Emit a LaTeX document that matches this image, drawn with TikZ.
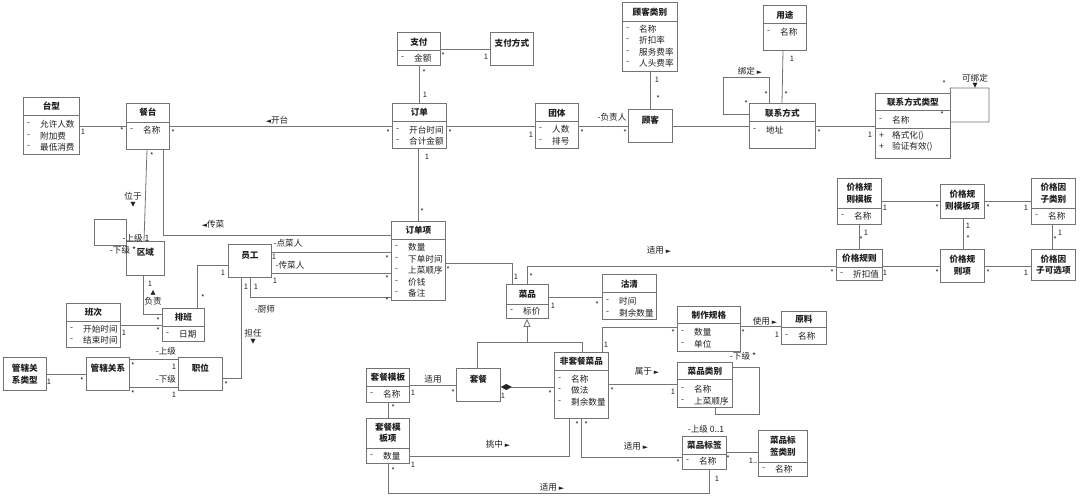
\documentclass[tikz,border=0pt]{standalone}
\usepackage{fontspec}
\setmainfont{Noto Sans CJK SC}
\newfontfamily\symf{DejaVu Sans}
\usetikzlibrary{arrows.meta}
\colorlet{lc}{black!55}
\colorlet{txtc}{black!88}
\tikzset{
  cbox/.style={draw=lc, line width=0.8pt, fill=white, inner sep=0pt, anchor=north west},
  cline/.style={draw=lc, line width=0.8pt},
  conn/.style={draw=lc, line width=0.8pt},
  ttl/.style={font=\fontsize{8.6}{11.5}\selectfont\bfseries, align=center, inner sep=0pt, text=txtc},
  att/.style={font=\fontsize{8.6}{10}\selectfont, anchor=west, inner sep=0pt, text=txtc},
  mlab/.style={font=\fontsize{7.5}{8}\selectfont, inner sep=0pt, text=txtc},
  rlab/.style={font=\fontsize{8.6}{10}\selectfont, inner sep=0pt, text=txtc, align=center},
}
\newcommand\ubox[5]{%
  \pgfmathsetmacro\bw{#4-#2}\pgfmathsetmacro\bh{#5-#3}%
  \node[cbox, minimum width=\bw pt, minimum height=\bh pt] (#1) at (#2,#3) {};}
\newcommand\usep[2]{\draw[cline] (#1.west |- 0,#2) -- (#1.east |- 0,#2);}
\newcommand\utitle[3]{\node[ttl] at (#1.center |- 0,#2) {#3};}
\newcommand\uattr[4]{\node[att] at ({#1+4},#2) {#3};\node[att] at ({#1+17},#2) {#4};}
\newcommand\umult[3]{\node[mlab] at (#1,#2) {#3};}
\newcommand\urole[3]{\node[rlab] at (#1,#2) {#3};}
\newcommand\arR{{\symf\fontsize{6.8}{7}\selectfont ►}}
\newcommand\arL{{\symf\fontsize{6.8}{7}\selectfont ◄}}
\newcommand\arD{{\symf\fontsize{6.5}{7}\selectfont ▼}}
\newcommand\arU{{\symf\fontsize{6.5}{7}\selectfont ▲}}
\begin{document}
\begin{tikzpicture}[x=1pt,y=-1pt]
\useasboundingbox[fill=white] (0,0) rectangle (1080,498);

% ---------- classes ----------
\ubox{tx}{23}{97}{79}{154}\usep{tx}{115}\utitle{tx}{106}{台型}
\uattr{23}{124}{-}{允许人数}\uattr{23}{136}{-}{附加费}\uattr{23}{147}{-}{最低消费}

\ubox{ct}{126}{103}{169}{149}\usep{ct}{122}\utitle{ct}{112}{餐台}
\uattr{126}{130}{-}{名称}

\ubox{dd}{392}{103}{446}{148}\usep{dd}{121}\utitle{dd}{112}{订单}
\uattr{392}{130}{-}{开台时间}\uattr{392}{141}{-}{合计金额}

\ubox{zf}{397}{32}{440}{65}\usep{zf}{50}\utitle{zf}{42}{支付}
\uattr{397}{58}{-}{金额}

\ubox{zffs}{490}{32}{533}{65}\utitle{zffs}{43}{支付方式}

\ubox{tt}{535}{103}{578}{148}\usep{tt}{121}\utitle{tt}{113}{团体}
\uattr{535}{129}{-}{人数}\uattr{535}{141}{-}{排号}

\ubox{gk}{628}{109}{672}{142}\utitle{gk}{120}{顾客}

\ubox{gklb}{622}{2}{677}{71}\usep{gklb}{21}\utitle{gklb}{12}{顾客类别}
\uattr{622}{29}{-}{名称}\uattr{622}{40}{-}{折扣率}\uattr{622}{52}{-}{服务费率}\uattr{622}{63}{-}{人头费率}

\ubox{yt}{763}{5}{806}{50}\usep{yt}{23}\utitle{yt}{15}{用途}
\uattr{763}{32}{-}{名称}

\ubox{lxfs}{749}{103}{815}{148}\usep{lxfs}{121}\utitle{lxfs}{113}{联系方式}
\uattr{749}{130}{-}{地址}

\ubox{lxlx}{875}{93}{950}{158}\usep{lxlx}{110}\usep{lxlx}{128}\utitle{lxlx}{102}{联系方式类型}
\uattr{875}{120}{-}{名称}\uattr{875}{136}{+}{格式化()}\uattr{875}{147}{+}{验证有效()}

\ubox{jgmb}{837}{178}{881}{224}\usep{jgmb}{208}\utitle{jgmb}{193}{价格规\\则模板}
\uattr{837}{216}{-}{名称}
\ubox{jgmbx}{940}{184}{984}{218}\utitle{jgmbx}{200}{价格规\\则模板项}
\ubox{jgyzlb}{1031}{178}{1075}{224}\usep{jgyzlb}{208}\utitle{jgyzlb}{193}{价格因\\子类别}
\uattr{1031}{216}{-}{名称}
\ubox{jggz}{836}{249}{882}{280}\usep{jggz}{267}\utitle{jggz}{258}{价格规则}
\uattr{836}{274}{-}{折扣值}
\ubox{jggzx}{940}{249}{984}{282}\utitle{jggzx}{265}{价格规\\则项}
\ubox{jgyzkx}{1031}{249}{1075}{280}\utitle{jgyzkx}{265}{价格因\\子可选项}

\ubox{cp}{506}{284}{548}{318}\usep{cp}{304}\utitle{cp}{294}{菜品}
\uattr{506}{311}{-}{标价}

\ubox{ddx}{391}{221}{445}{300}\usep{ddx}{239}\utitle{ddx}{230}{订单项}
\uattr{391}{247}{-}{数量}\uattr{391}{259}{-}{下单时间}\uattr{391}{270}{-}{上菜顺序}
\uattr{391}{282}{-}{价钱}\uattr{391}{293}{-}{备注}

\ubox{gq}{602}{274}{656}{319}\usep{gq}{292}\utitle{gq}{284}{沽清}
\uattr{602}{301}{-}{时间}\uattr{602}{313}{-}{剩余数量}

\ubox{zzgg}{677}{306}{740}{351}\usep{zzgg}{323}\utitle{zzgg}{315}{制作规格}
\uattr{677}{332}{-}{数量}\uattr{677}{344}{-}{单位}

\ubox{yl}{781}{311}{826}{344}\usep{yl}{327}\utitle{yl}{319}{原料}
\uattr{781}{336}{-}{名称}

\ubox{ftc}{554}{352}{608}{418}\usep{ftc}{370}\utitle{ftc}{361}{非套餐菜品}
\uattr{554}{379}{-}{名称}\uattr{554}{390}{-}{做法}\uattr{554}{402}{-}{剩余数量}

\ubox{tc}{456}{368}{500}{401}\utitle{tc}{379}{套餐}

\ubox{cplb}{677}{362}{732}{407}\usep{cplb}{379}\utitle{cplb}{371}{菜品类别}
\uattr{677}{389}{-}{名称}\uattr{677}{401}{-}{上菜顺序}

\ubox{cpbq}{682}{436}{726}{469}\usep{cpbq}{454}\utitle{cpbq}{445}{菜品标签}
\uattr{682}{461}{-}{名称}

\ubox{bqlb}{758}{430}{807}{476}\usep{bqlb}{462}\utitle{bqlb}{446}{菜品标\\签类别}
\uattr{758}{469}{-}{名称}

\ubox{tcmb}{366}{368}{409}{402}\usep{tcmb}{386}\utitle{tcmb}{377}{套餐模板}
\uattr{366}{394}{-}{名称}

\ubox{tcmbx}{366}{418}{409}{463}\usep{tcmbx}{448}\utitle{tcmbx}{433}{套餐模\\板项}
\uattr{366}{456}{-}{数量}

\ubox{yg}{228}{244}{271}{277}\utitle{yg}{255}{员工}
\ubox{qy}{126}{241}{164}{275}\utitle{qy}{252}{区域}

\ubox{pb}{162}{308}{204}{341}\usep{pb}{326}\utitle{pb}{317}{排班}
\uattr{162}{334}{-}{日期}

\ubox{bc}{66}{303}{120}{347}\usep{bc}{321}\utitle{bc}{312}{班次}
\uattr{66}{329}{-}{开始时间}\uattr{66}{340}{-}{结束时间}

\ubox{gxlx}{3}{357}{46}{390}\utitle{gxlx}{374}{管辖关\\系类型}
\ubox{gxgx}{86}{357}{129}{390}\utitle{gxgx}{368}{管辖关系}
\ubox{zw}{178}{357}{222}{390}\utitle{zw}{368}{职位}

% ---------- connectors ----------
\draw[conn] (tx.east |- 0,126) -- (ct.west |- 0,126);
\draw[conn] (ct.east |- 0,126.5) -- (dd.west |- 0,126.5);
\draw[conn] (zf.east |- 0,49) -- (zffs.west |- 0,49);
\draw[conn] (zf.south -| 419,0) -- (dd.north -| 419,0);
\draw[conn] (dd.east |- 0,126) -- (tt.west |- 0,126);
\draw[conn] (tt.east |- 0,126) -- (gk.west |- 0,126);
\draw[conn] (gklb.south -| 650,0) -- (gk.north -| 650,0);
\draw[conn] (gk.east |- 0,126) -- (lxfs.west |- 0,126);
\draw[conn] (yt.south -| 783,0) -- (lxfs.north -| 782,0);
\draw[conn] (lxfs.north -| 769,0) -- (769,77) -- (723,77) -- (723,114) -- (lxfs.west |- 0,114);
\draw[conn] (lxfs.east |- 0,126) -- (lxlx.west |- 0,126);
\draw[conn] (lxlx.north east) -- (950,88) -- (989,88) -- (989,122) -- (lxlx.east |- 0,122);

\draw[conn] (jgmb.east |- 0,201) -- (jgmbx.west |- 0,201);
\draw[conn] (jgmbx.east |- 0,201) -- (jgyzlb.west |- 0,201);
\draw[conn] (jgmb.south -| 859,0) -- (jggz.north -| 859,0);
\draw[conn] (jgmbx.south -| 963,0) -- (jggzx.north -| 963,0);
\draw[conn] (jgyzlb.south -| 1052,0) -- (jgyzkx.north -| 1052,0);
\draw[conn] (jggz.east |- 0,266) -- (jggzx.west |- 0,266);
\draw[conn] (jggzx.east |- 0,266) -- (jgyzkx.west |- 0,266);
\draw[conn] (cp.north -| 527,0) -- (527,266) -- (jggz.west |- 0,266);

\draw[conn] (ddx.east |- 0,263) -- (512,263) -- (cp.north -| 512,0);
\draw[conn] (dd.south -| 418,0) -- (ddx.north -| 418,0);
\draw[conn] (cp.east |- 0,297) -- (gq.west |- 0,297);

\draw[conn] (tc.north -| 477,0) -- (477,342) -- (582,342) -- (ftc.north -| 582,0);
\draw[conn,-{Triangle[length=8pt,width=7pt,fill=white]}] (527,342) -- (cp.south -| 527,0);
\draw[conn,{Diamond[length=11pt,width=6pt,color=black!85]}-] (tc.east |- 0,387) -- (ftc.west |- 0,387);

\draw[conn] (ftc.north -| 602,0) -- (602,327) -- (zzgg.west |- 0,327);
\draw[conn] (zzgg.east |- 0,326) -- (yl.west |- 0,326);
\draw[conn] (ftc.east |- 0,384) -- (cplb.west |- 0,384);
\draw[conn] (cplb.east |- 0,367) -- (759,367) -- (759,414) -- (715,414) -- (cplb.south -| 715,0);
\draw[conn] (ftc.south -| 581,0) -- (581,457) -- (cpbq.west |- 0,457);
\draw[conn] (ftc.south -| 569,0) -- (569,456) -- (tcmbx.east |- 0,456);
\draw[conn] (cpbq.east |- 0,452) -- (bqlb.west |- 0,452);
\draw[conn] (tcmb.east |- 0,385) -- (tc.west |- 0,385);
\draw[conn] (tcmb.south -| 388,0) -- (tcmbx.north -| 388,0);
\draw[conn] (tcmbx.south -| 388,0) -- (388,493) -- (709,493) -- (cpbq.south -| 709,0);

\draw[conn] (ct.south -| 147,0) -- (qy.north -| 144,0);
\draw[conn] (qy.north west) -- (126,219) -- (94,219) -- (94,245) -- (qy.west |- 0,245);
\draw[conn] (qy.south -| 143,0) -- (143,314) -- (pb.west |- 0,314);
\draw[conn] (bc.east |- 0,325) -- (pb.west |- 0,325);
\draw[conn] (yg.west |- 0,265) -- (197,265) -- (pb.north -| 197,0);
\draw[conn] (ct.south -| 163,0) -- (163,235) -- (ddx.west |- 0,235);
\draw[conn] (yg.east |- 0,252) -- (ddx.west |- 0,252);
\draw[conn] (yg.east |- 0,273) -- (ddx.west |- 0,273);
\draw[conn] (yg.south -| 250,0) -- (250,297) -- (ddx.west |- 0,297);
\draw[conn] (yg.south -| 241,0) -- (241,378) -- (zw.east |- 0,378);
\draw[conn] (gxlx.east |- 0,374) -- (gxgx.west |- 0,374);
\draw[conn] (gxgx.east |- 0,359) -- (zw.west |- 0,359);
\draw[conn] (gxgx.east |- 0,387) -- (zw.west |- 0,387);

% ---------- role labels ----------
\urole{277}{120}{\arL 开台}
\urole{612}{117}{-负责人}
\urole{750}{71}{绑定 \arR}
\urole{975}{78}{可绑定}
\urole{975}{86}{\arD}
\urole{659}{250}{适用 \arR}
\urole{765}{321}{使用 \arR}
\urole{647}{371}{属于 \arR}
\urole{743}{356}{-下级 *}
\urole{706}{429}{-上级 0..1}
\urole{636}{446}{适用 \arR}
\urole{498}{444}{挑中 \arR}
\urole{552}{487}{适用 \arR}
\urole{433}{379}{适用}
\urole{133}{196}{位于}
\urole{133}{205}{\arD}
\urole{136}{238}{-上级 1}
\urole{123}{250}{-下级 *}
\urole{153}{293}{\arU}
\urole{153}{301}{负责}
\urole{213}{224}{\arL 传菜}
\urole{288}{243}{-点菜人}
\urole{290}{265}{-传菜人}
\urole{265}{309}{-厨师}
\urole{253}{333}{担任}
\urole{253}{342}{\arD}
\urole{166}{351}{-上级}
\urole{166}{379}{-下级}

% ---------- multiplicities ----------
\umult{83}{132}{1}\umult{122}{131}{*}
\umult{173}{133}{*}\umult{388}{133}{*}
\umult{443}{56}{*}\umult{486}{57}{1}
\umult{424}{73}{*}\umult{425}{95}{1}
\umult{450}{133}{*}\umult{531}{135}{1}
\umult{582}{133}{*}\umult{625}{133}{*}
\umult{657}{80}{1}\umult{658}{99}{*}
\umult{792}{59}{1}\umult{786}{95}{*}
\umult{766}{95}{*}\umult{746}{104}{*}
\umult{819}{133}{*}\umult{870}{135}{1}
\umult{944}{84}{*}\umult{942}{115}{*}
\umult{885}{208}{1}\umult{937}{208}{*}
\umult{988}{208}{*}\umult{1026}{208}{1}
\umult{866}{233}{1}\umult{861}{240}{*}
\umult{968}{226}{1}\umult{968}{239}{*}
\umult{1060}{233}{1}\umult{1055}{240}{*}
\umult{885}{273}{1}\umult{937}{273}{*}
\umult{988}{273}{*}\umult{1026}{273}{1}
\umult{832}{273}{*}\umult{531}{277}{*}
\umult{448}{270}{*}\umult{516}{277}{1}
\umult{427}{157}{1}\umult{422}{212}{*}
\umult{553}{306}{1}\umult{597}{305}{*}
\umult{503}{396}{1}\umult{550}{394}{*}
\umult{606}{345}{1}\umult{673}{333}{*}
\umult{743}{333}{*}\umult{777}{335}{1}
\umult{612}{391}{*}\umult{673}{392}{1}
\umult{586}{425}{*}\umult{678}{463}{*}
\umult{577}{425}{*}\umult{413}{465}{1}
\umult{728}{459}{*}\umult{753}{461}{1..}
\umult{413}{393}{1}\umult{453}{393}{*}
\umult{393}{408}{*}
\umult{393}{471}{*}\umult{717}{479}{1}
\umult{152}{156}{*}
\umult{150}{284}{1}\umult{158}{321}{*}
\umult{124}{333}{1}\umult{158}{331}{*}
\umult{223}{273}{1}\umult{203}{298}{*}
\umult{274}{257}{1}\umult{387}{259}{*}
\umult{275}{281}{1}\umult{387}{279}{*}
\umult{256}{287}{1}\umult{387}{301}{*}
\umult{246}{287}{1}\umult{226}{385}{*}
\umult{49}{382}{1}\umult{82}{381}{*}
\umult{133}{366}{*}\umult{174}{367}{1}
\umult{133}{394}{*}\umult{174}{395}{1}
\end{tikzpicture}
\end{document}
